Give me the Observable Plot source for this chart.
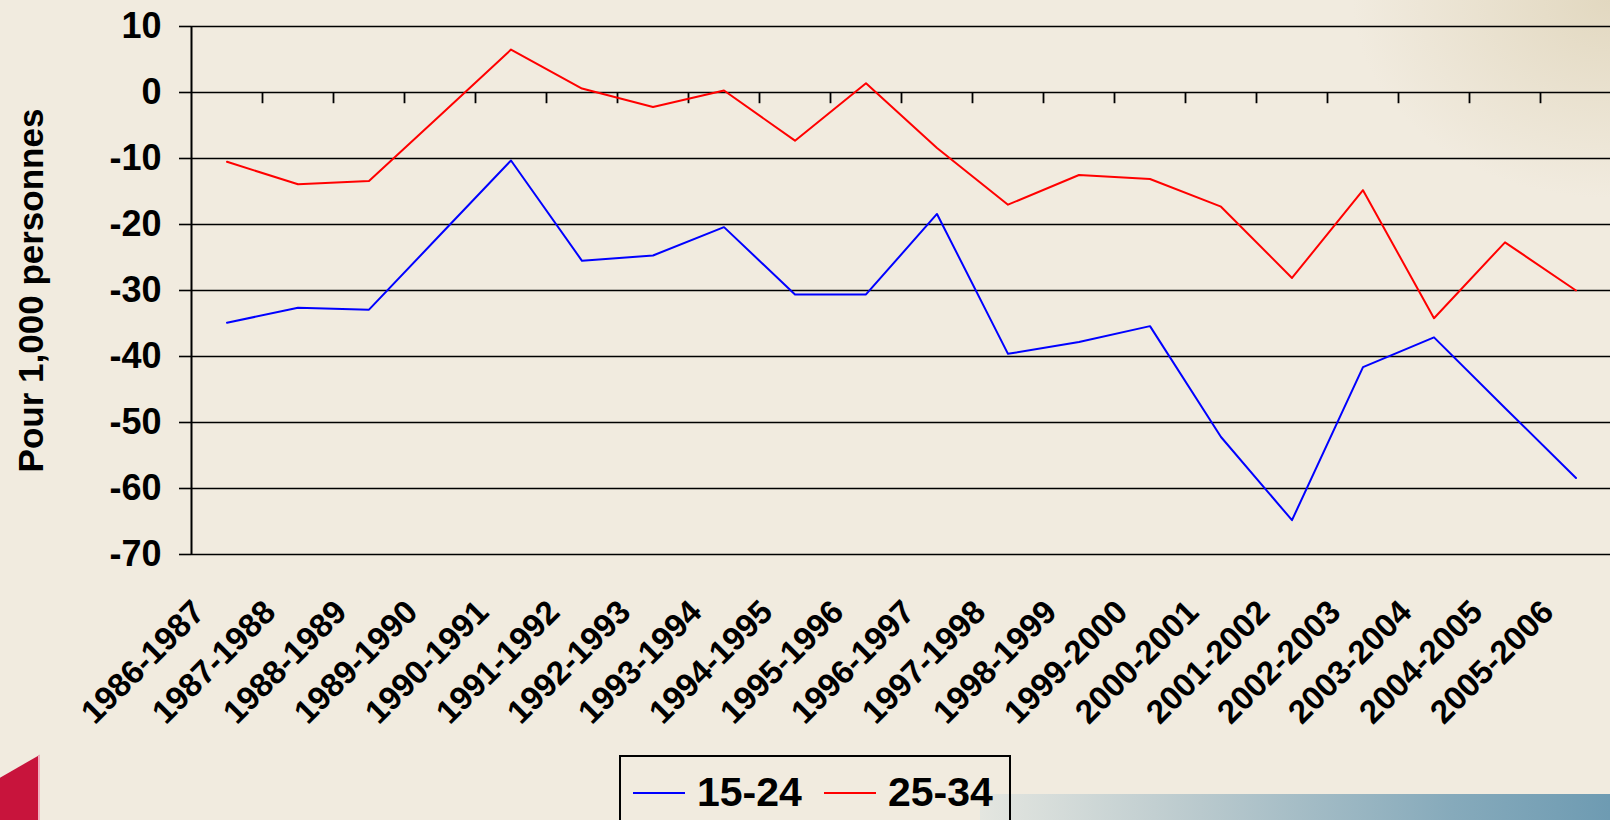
<!DOCTYPE html>
<html>
<head>
<meta charset="utf-8">
<script src="https://cdn.jsdelivr.net/npm/d3@7"></script>
<script src="https://cdn.jsdelivr.net/npm/@observablehq/plot@0.6"></script>
<style>
  html, body { margin: 0; padding: 0; }
  body {
    width: 1610px; height: 820px; overflow: hidden; position: relative;
    background: #F1EBDF;
    font-family: "Liberation Sans", Arial, sans-serif;
  }
  .deco-tr { position: absolute; right: 0; top: 0; width: 260px; height: 200px;
    background: radial-gradient(ellipse at top right, #E2D8C0 0%, rgba(241,235,223,0) 70%); }
  .deco-br { position: absolute; left: 980px; top: 794px; width: 630px; height: 26px;
    background: linear-gradient(to right, #E4E6E0 0%, #B9C9CD 35%, #86AABB 75%, #6E9BB2 100%); }
  .deco-bl { position: absolute; left: -20px; top: 772px; width: 58px; height: 80px;
    background: #C8143C; transform: skewY(-30deg); border-right: 2px solid #F0B0C0; }
  #chart { position: absolute; left: 0; top: 0; }
  #legend {
    position: absolute; left: 619px; top: 755px; width: 392px; height: 75px;
    box-sizing: border-box; border: 2px solid #000; background: transparent;
    display: flex; align-items: center; padding-left: 12px;
    font-weight: bold; font-size: 41px; color: #000;
  }
  #legend .sw { display: inline-block; width: 52px; height: 2px; }
  #legend .lab { margin-left: 12px; }
</style>
</head>
<body>
<div class="deco-tr"></div>
<div class="deco-br"></div>
<div class="deco-bl"></div>
<div id="chart"></div>
<div id="legend"></div>
<script>
// ---- data ----
const periods = ["1986-1987","1987-1988","1988-1989","1989-1990","1990-1991","1991-1992","1992-1993",
  "1993-1994","1994-1995","1995-1996","1996-1997","1997-1998","1998-1999","1999-2000","2000-2001",
  "2001-2002","2002-2003","2003-2004","2004-2005","2005-2006"];
const seriesNames = ["15-24", "25-34"];
const seriesColors = ["#0000FF", "#FF0000"];
const age15to24 = [-34.9, -32.6, -32.9, -21.6, -10.3, -25.5, -24.7, -20.4, -30.6, -30.6,
  -18.4, -39.6, -37.8, -35.4, -52.2, -64.8, -41.6, -37.1, -47.8, -58.4];
const age25to34 = [-10.5, -13.9, -13.4, -3.5, 6.5, 0.6, -2.2, 0.3, -7.3, 1.4,
  -8.4, -17.0, -12.5, -13.1, -17.3, -28.1, -14.8, -34.2, -22.7, -30.0];
const yTicks = [10, 0, -10, -20, -30, -40, -50, -60, -70];
const yTitle = "Pour 1,000 personnes";

// ---- table ----
const rows = [];
periods.forEach((p, i) => {
  rows.push({i, period: p, group: seriesNames[0], value: age15to24[i]});
  rows.push({i, period: p, group: seriesNames[1], value: age25to34[i]});
});
const centers = periods.map((p, i) => i + 0.5);
const boundaries = d3.range(1, periods.length);

const chart = Plot.plot({
  width: 1610,
  height: 755,
  marginLeft: 191,
  marginRight: 0,
  marginTop: 26,
  marginBottom: 201,
  style: {fontFamily: "'Liberation Sans', Arial, sans-serif", background: "transparent", overflow: "visible", color: "#000"},
  x: {type: "linear", domain: [0, periods.length], range: [191, 1611]},
  y: {domain: [-70, 10], range: [554, 26]},
  color: {domain: seriesNames, range: seriesColors},
  marks: [
    Plot.ruleY(yTicks, {stroke: "#000", strokeWidth: 1.6}),
    Plot.axisY(yTicks, {tickSize: 12, tickPadding: 18, fontSize: 36, fontWeight: "bold",
      tickFormat: d => String(d), label: null, stroke: "#000", strokeWidth: 1.6, fill: "#000"}),
    Plot.ruleX([0], {stroke: "#000", strokeWidth: 2}),
    Plot.ruleX(boundaries, {x: d => d, y1: 0, y2: -1.7, stroke: "#000", strokeWidth: 1.8}),
    Plot.line(rows, {x: d => d.i + 0.5, y: "value", z: "group", stroke: "group", strokeWidth: 2}),
    Plot.axisX(centers, {tickFormat: d => periods[Math.floor(d)], tickRotate: -45, tickSize: 0,
      tickPadding: 52, dx: -28, fontSize: 33, fontWeight: "bold", label: null, fill: "#000"}),
    Plot.text([yTitle], {frameAnchor: "left", textAnchor: "middle", dx: -160, rotate: -90,
      fontSize: 35, fontWeight: "bold", fill: "#000"})
  ]
});
document.getElementById("chart").appendChild(chart);

// ---- legend ----
const legend = document.getElementById("legend");
seriesNames.forEach((name, k) => {
  const sw = document.createElement("span");
  sw.className = "sw";
  sw.style.background = seriesColors[k];
  if (k > 0) sw.style.marginLeft = "22px";
  const lab = document.createElement("span");
  lab.className = "lab";
  lab.textContent = name;
  legend.appendChild(sw);
  legend.appendChild(lab);
});
</script>
</body>
</html>
